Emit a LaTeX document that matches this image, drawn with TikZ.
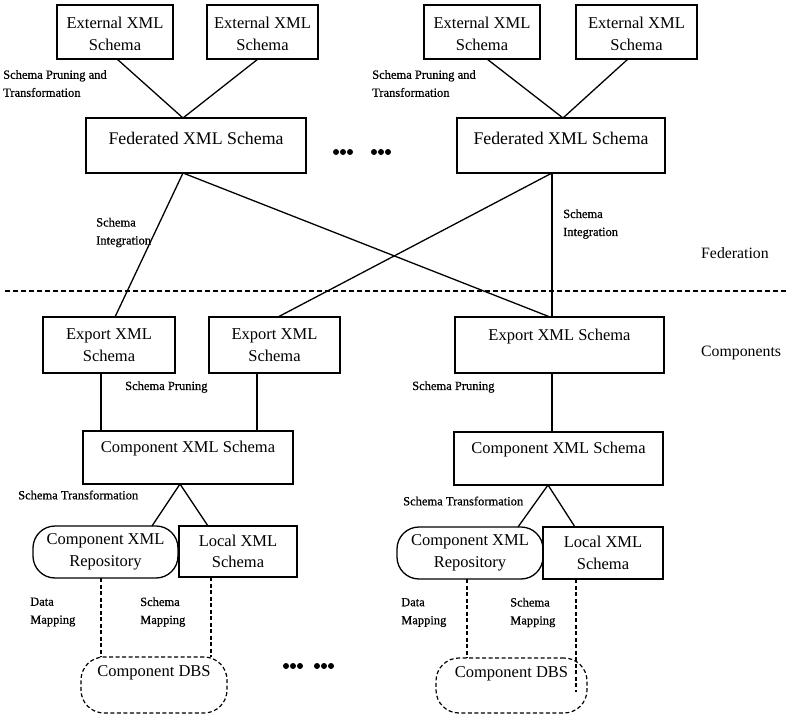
\documentclass[tikz,border=0pt]{standalone}
\usepackage{fontspec}
\setmainfont{Liberation Serif}
\newfontfamily\labfont[FakeBold=0.6]{Liberation Serif}
\usetikzlibrary{calc}
\begin{document}
\begin{tikzpicture}[x=1pt,y=-1pt,
  box/.style={draw, line width=1.3pt, inner sep=0pt, outer sep=0pt},
  rbox/.style={box, rounded corners=22pt},
  dbsbox/.style={draw, line width=1.2pt, dash pattern=on 4pt off 2.5pt, rounded corners=23pt, inner sep=0pt, outer sep=0pt},
  btext/.style={font=\fontsize{16.5}{21.5}\selectfont, align=center, inner sep=0pt},
  ftext/.style={font=\fontsize{17.8}{21.5}\selectfont, align=center, inner sep=0pt},
  lab/.style={font=\labfont\fontsize{12.5}{18}\selectfont, align=left, inner sep=0pt, anchor=west},
  biglab/.style={font=\fontsize{15.8}{19}\selectfont, inner sep=0pt, anchor=west},
  conn/.style={line width=1.3pt},
  dconn/.style={line width=1.2pt, dash pattern=on 4pt off 2.5pt}
]
\useasboundingbox (0,0) rectangle (788,717);

% top row
\node[box, minimum width=116pt, minimum height=54pt, label={[btext,yshift=-2pt]center:External XML\\Schema}] (ext1) at (115,32) {};
\node[box, minimum width=111pt, minimum height=54pt, label={[btext,yshift=-2pt]center:External XML\\Schema}] (ext2) at (262.5,32) {};
\node[box, minimum width=116pt, minimum height=54pt, label={[btext,yshift=-2pt]center:External XML\\Schema}] (ext3) at (482,32) {};
\node[box, minimum width=121pt, minimum height=54pt, label={[btext,yshift=-2pt]center:External XML\\Schema}] (ext4) at (636.5,32) {};

% federated
\node[box, minimum width=220pt, minimum height=55pt, label={[ftext,yshift=7.5pt]center:Federated XML Schema}] (fed1) at (196,145.5) {};
\node[box, minimum width=208pt, minimum height=55pt, label={[ftext,yshift=7.5pt]center:Federated XML Schema}] (fed2) at (561,145.5) {};

% export
\node[box, minimum width=132pt, minimum height=56pt, label={[btext]center:Export XML\\Schema}] (exp1) at (109,345) {};
\node[box, minimum width=131pt, minimum height=56pt, label={[btext]center:Export XML\\Schema}] (exp2) at (274.5,345) {};
\node[box, minimum width=209pt, minimum height=56pt, label={[btext,yshift=8pt]center:Export XML Schema}] (exp3) at (559.5,345) {};

% component
\node[box, minimum width=210pt, minimum height=53pt, label={[btext,yshift=8.5pt]center:Component XML Schema}] (comp1) at (188,457.5) {};
\node[box, minimum width=209pt, minimum height=53pt, label={[btext,yshift=8.5pt]center:Component XML Schema}] (comp2) at (558.5,458.5) {};

% repository and local
\node[rbox, minimum width=145pt, minimum height=52pt, label={[btext]center:Component XML\\Repository}] (repo1) at (105.5,552) {};
\node[box, minimum width=118pt, minimum height=51pt, label={[btext]center:Local XML\\Schema}] (local1) at (238,551.5) {};
\node[rbox, minimum width=146pt, minimum height=52pt, label={[btext]center:Component XML\\Repository}] (repo2) at (470,553) {};
\node[box, minimum width=120pt, minimum height=52pt, label={[btext]center:Local XML\\Schema}] (local2) at (603,553) {};

% DBS
\node[dbsbox, minimum width=146pt, minimum height=56pt, label={[btext,yshift=12pt]center:Component DBS}] (dbs1) at (154,685) {};
\node[dbsbox, minimum width=151pt, minimum height=55pt, label={[btext,yshift=12pt]center:Component DBS}] (dbs2) at (511.5,685.5) {};

% connectors top
\draw[conn] ([xshift=2pt]ext1.south) -- ([xshift=-13pt]fed1.north);
\draw[conn] ([xshift=-4.5pt]ext2.south) -- ([xshift=-13pt]fed1.north);
\draw[conn] ([xshift=5pt]ext3.south) -- ([xshift=2pt]fed2.north);
\draw[conn] ([xshift=-8.5pt]ext4.south) -- ([xshift=2pt]fed2.north);

% integration
\draw[conn] ([xshift=-13pt]fed1.south) -- ([xshift=6pt]exp1.north);
\draw[conn] ([xshift=-13pt]fed1.south) -- ([xshift=-9.5pt]exp3.north);
\draw[conn] ([xshift=-9pt]fed2.south) -- ([xshift=3.5pt]exp2.north);
\draw[conn] ([xshift=-9pt]fed2.south) -- ([xshift=-9pt]fed2.south |- exp3.north);

% pruning
\draw[conn] ([xshift=-8pt]exp1.south) -- ([xshift=-8pt]exp1.south |- comp1.north);
\draw[conn] ([xshift=-17.5pt]exp2.south) -- ([xshift=-17.5pt]exp2.south |- comp1.north);
\draw[conn] ([xshift=-7.5pt]exp3.south) -- ([xshift=-7.5pt]exp3.south |- comp2.north);

% transformation
\draw[conn] ([xshift=-8pt]comp1.south) -- ([xshift=46.5pt]repo1.north);
\draw[conn] ([xshift=-8pt]comp1.south) -- ([xshift=-30pt]local1.north);
\draw[conn] ([xshift=-10.5pt]comp2.south) -- ([xshift=48pt]repo2.north);
\draw[conn] ([xshift=-10.5pt]comp2.south) -- ([xshift=-28pt]local2.north);

% mapping (dashed)
\draw[dconn] ([xshift=-4.5pt]repo1.south) -- ([xshift=-4.5pt]repo1.south |- dbs1.north);
\draw[dconn] ([xshift=-27pt]local1.south) -- ([xshift=-27pt]local1.south |- dbs1.north);
\draw[dconn] ([xshift=-3pt]repo2.south) -- ([xshift=-3pt]repo2.south |- dbs2.north);
\coordinate (l2end) at (576,692);
\draw[dconn] ([xshift=-27pt]local2.south) -- (l2end);

% federation / components separator
\coordinate (sepL) at (5,291);
\coordinate (sepR) at (788,291);
\draw[line width=1.2pt, dash pattern=on 5pt off 3pt] (sepL) -- (sepR);

% labels
\node[lab] (l1) at (3,83.5) {Schema Pruning and\\Transformation};
\node[lab] (l2) at (372,83.5) {Schema Pruning and\\Transformation};
\node[lab] (l3) at (96,232.5) {Schema\\Integration};
\node[lab] (l4) at (563,224) {Schema\\Integration};
\node[lab] (l5) at (125,387) {Schema Pruning};
\node[lab] (l6) at (412,387) {Schema Pruning};
\node[lab] (l7) at (18,495) {Schema Transformation};
\node[lab] (l8) at (403,501) {Schema Transformation};
\node[lab] (l9) at (30,612) {Data\\Mapping};
\node[lab] (l10) at (140,612) {Schema\\Mapping};
\node[lab] (l11) at (401,612.5) {Data\\Mapping};
\node[lab] (l12) at (510,612.5) {Schema\\Mapping};
\node[biglab] (fedlab) at (701,253) {Federation};
\node[biglab] (complab) at (701,353) {Components};

% ellipsis dots
\foreach \x in {336,343,350,374,381,388} \fill (\x,152) circle (3pt);
\foreach \x in {286,293,300,317,324,331} \fill (\x,666) circle (3pt);
\end{tikzpicture}
\end{document}
